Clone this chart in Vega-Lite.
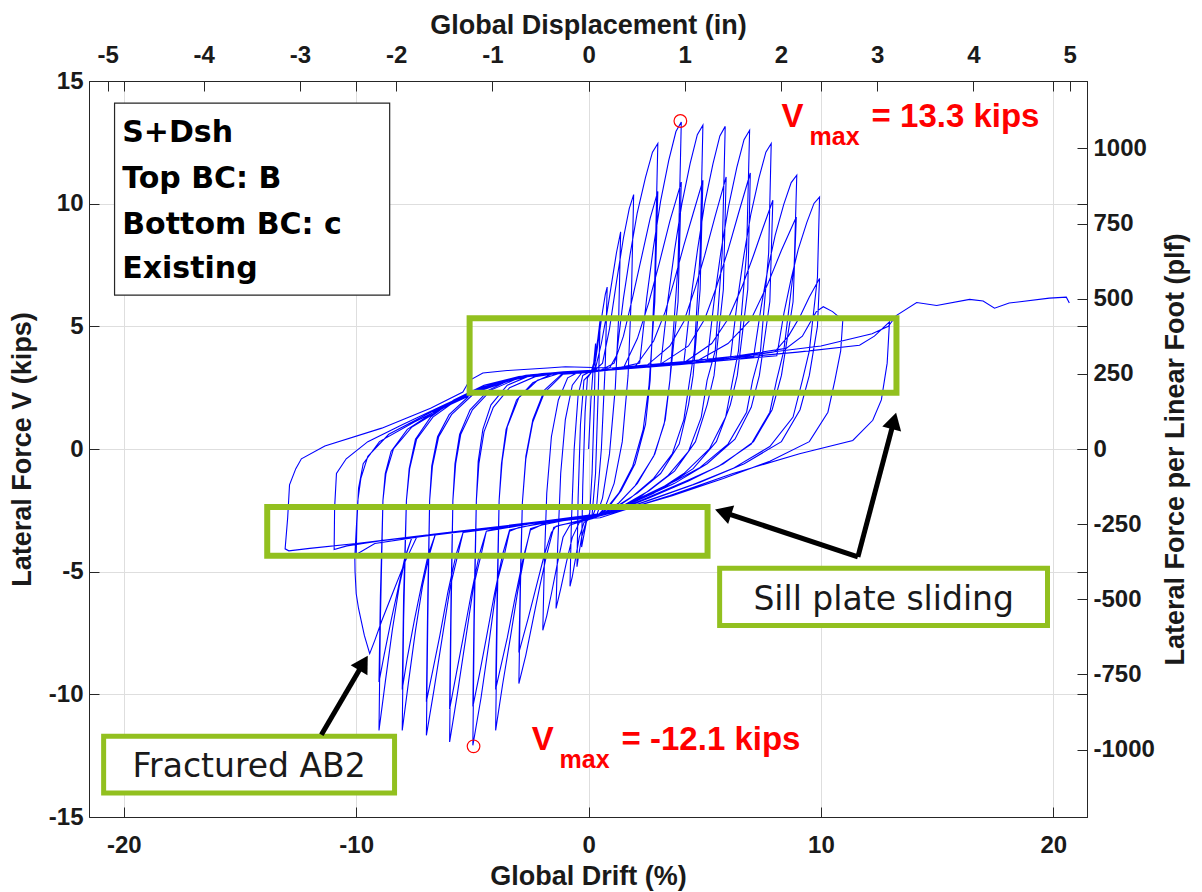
{
"$schema": "https://vega.github.io/schema/vega-lite/v6.json",
"width": 998, "height": 736,
"autosize": "none",
"padding": {"left": 89, "top": 81, "right": 115, "bottom": 75},
"background": "white",
"config": {"view": {"stroke": null}},
"resolve": {"scale": {"x": "independent", "y": "independent"}, "axis": {"x": "independent", "y": "independent"}},
"datasets": {
"loops": [
{"d":0,"v":0},{"d":0.1,"v":2.0},{"d":0.2,"v":3.3},{"d":0.3,"v":4.3},
{"d":0.25,"v":2.0},{"d":0.15,"v":-1.0},{"d":0.05,"v":-2.6},{"d":-0.1,"v":-3.0},{"d":-0.2,"v":-3.5},{"d":-0.3,"v":-4.0},
{"d":-0.25,"v":-1.5},{"d":-0.15,"v":1.5},{"d":-0.05,"v":2.9},{"d":0.1,"v":3.1},{"d":0.25,"v":3.6},{"d":0.4,"v":4.5},{"d":0.5,"v":5.3},
{"d":0.42,"v":2.5},{"d":0.3,"v":-1.0},{"d":0.15,"v":-2.7},{"d":-0.1,"v":-2.95},{"d":-0.3,"v":-3.6},{"d":-0.42,"v":-4.3},{"d":-0.5,"v":-4.8},
{"d":-0.45,"v":-2.0},{"d":-0.35,"v":1.0},{"d":-0.2,"v":2.8},{"d":0.1,"v":3.1},{"d":0.3,"v":3.6},{"d":0.45,"v":4.6},{"d":0.6,"v":5.6},{"d":0.72,"v":6.3},{"d":0.8,"v":6.6},
{"d":0.72,"v":3.5},{"d":0.55,"v":0},{"d":0.35,"v":-2.3},{"d":0.15,"v":-2.8},{"d":-0.2,"v":-3.0},{"d":-0.4,"v":-3.6},{"d":-0.55,"v":-4.4},{"d":-0.7,"v":-5.2},{"d":-0.8,"v":-5.6},
{"d":-0.74,"v":-3.0},{"d":-0.62,"v":0},{"d":-0.45,"v":2.2},{"d":-0.25,"v":3.0},{"d":0,"v":3.12},{"d":0.3,"v":3.3},{"d":0.55,"v":4.3},{"d":0.8,"v":5.6},{"d":1.0,"v":6.8},{"d":1.2,"v":8.0},{"d":1.38,"v":8.85},
{"d":1.3,"v":5.5},{"d":1.15,"v":2.5},{"d":0.9,"v":-0.2},{"d":0.6,"v":-2.0},{"d":0.35,"v":-2.7},{"d":0,"v":-2.85},{"d":-0.4,"v":-3.0},{"d":-0.7,"v":-3.6},{"d":-0.95,"v":-4.6},{"d":-1.2,"v":-5.7},{"d":-1.4,"v":-6.5},
{"d":-1.33,"v":-4.0},{"d":-1.2,"v":-1.0},{"d":-1.0,"v":1.2},{"d":-0.7,"v":2.6},{"d":-0.3,"v":3.1},{"d":0.2,"v":3.15},{"d":0.6,"v":3.5},{"d":0.9,"v":4.9},{"d":1.2,"v":6.8},{"d":1.5,"v":8.6},{"d":1.75,"v":9.8},{"d":1.94,"v":10.37},
{"d":1.85,"v":6.5},{"d":1.7,"v":3.0},{"d":1.45,"v":0.3},{"d":1.1,"v":-1.4},{"d":0.7,"v":-2.4},{"d":0.3,"v":-2.8},{"d":-0.3,"v":-2.95},{"d":-0.8,"v":-3.1},{"d":-1.1,"v":-3.6},{"d":-1.35,"v":-4.7},{"d":-1.6,"v":-5.9},{"d":-1.8,"v":-6.8},{"d":-1.97,"v":-7.39},
{"d":-1.9,"v":-4.5},{"d":-1.8,"v":-1.8},{"d":-1.6,"v":0.5},{"d":-1.3,"v":2.0},{"d":-0.9,"v":2.9},{"d":-0.4,"v":3.15},{"d":0.3,"v":3.15},{"d":0.9,"v":3.3},{"d":1.2,"v":3.8},
{"d":1.5,"v":6.14},{"d":1.79,"v":7.95},{"d":2.09,"v":9.6},{"d":2.45,"v":11.07},{"d":2.75,"v":12.1},{"d":2.98,"v":12.45},
{"d":2.85,"v":7.0},{"d":2.65,"v":2.8},{"d":2.45,"v":1.0},{"d":2.0,"v":-0.6},{"d":1.4,"v":-1.7},{"d":0.8,"v":-2.45},{"d":0.3,"v":-2.8},{"d":-0.4,"v":-2.95},{"d":-1.2,"v":-3.1},{"d":-1.5,"v":-3.2},
{"d":-1.8,"v":-4.3},{"d":-2.1,"v":-5.6},{"d":-2.4,"v":-7.0},{"d":-2.7,"v":-8.4},{"d":-3.0,"v":-9.56},
{"d":-2.93,"v":-5.5},{"d":-2.85,"v":-2.2},{"d":-2.7,"v":-0.3},{"d":-2.4,"v":1.2},{"d":-1.9,"v":2.4},{"d":-1.1,"v":3.1},{"d":-0.3,"v":3.15},{"d":0.5,"v":3.2},{"d":1.1,"v":3.5},
{"d":1.5,"v":4.6},{"d":1.9,"v":6.2},{"d":2.3,"v":7.9},{"d":2.65,"v":9.4},{"d":2.98,"v":10.5},
{"d":2.85,"v":6.0},{"d":2.6,"v":2.6},{"d":2.35,"v":0.8},{"d":1.9,"v":-0.7},{"d":1.3,"v":-1.8},{"d":0.7,"v":-2.5},{"d":0.2,"v":-2.8},{"d":-0.5,"v":-2.95},{"d":-1.4,"v":-3.15},{"d":-1.6,"v":-3.4},
{"d":-1.9,"v":-4.3},{"d":-2.25,"v":-5.6},{"d":-2.6,"v":-6.9},{"d":-3.0,"v":-8.3},
{"d":-2.93,"v":-5.0},{"d":-2.85,"v":-2.2},{"d":-2.7,"v":-0.4},{"d":-2.4,"v":1.1},{"d":-1.9,"v":2.3},{"d":-1.1,"v":3.05},{"d":0,"v":3.12},{"d":1.0,"v":3.25},{"d":2.2,"v":3.5},
{"d":2.5,"v":6.15},{"d":2.79,"v":8.22},{"d":3.1,"v":10.1},{"d":3.45,"v":11.76},{"d":3.76,"v":12.94},{"d":3.99,"v":13.33},
{"d":3.85,"v":7.5},{"d":3.5,"v":2.8},{"d":3.3,"v":1.2},{"d":2.85,"v":-0.2},{"d":2.1,"v":-1.4},{"d":1.3,"v":-2.2},{"d":0.6,"v":-2.65},{"d":0,"v":-2.8},{"d":-1.0,"v":-2.9},{"d":-2.0,"v":-3.1},{"d":-2.5,"v":-3.25},
{"d":-2.75,"v":-4.3},{"d":-3.05,"v":-5.8},{"d":-3.35,"v":-7.6},{"d":-3.7,"v":-9.6},{"d":-4.0,"v":-11.47},
{"d":-3.93,"v":-6.5},{"d":-3.85,"v":-2.1},{"d":-3.75,"v":-0.6},{"d":-3.55,"v":0.8},{"d":-3.1,"v":2.0},{"d":-2.4,"v":2.7},{"d":-1.6,"v":3.05},{"d":-0.6,"v":3.12},{"d":0.5,"v":3.2},{"d":1.5,"v":3.3},
{"d":2.1,"v":4.5},{"d":2.6,"v":6.0},{"d":3.05,"v":7.6},{"d":3.5,"v":9.3},{"d":3.99,"v":10.88},
{"d":3.85,"v":6.0},{"d":3.5,"v":2.8},{"d":3.25,"v":1.0},{"d":2.8,"v":-0.3},{"d":2.0,"v":-1.5},{"d":1.2,"v":-2.3},{"d":0.5,"v":-2.7},{"d":-0.5,"v":-2.85},{"d":-1.8,"v":-3.0},{"d":-2.5,"v":-3.3},
{"d":-2.8,"v":-4.4},{"d":-3.15,"v":-6.0},{"d":-3.5,"v":-7.7},{"d":-4.0,"v":-9.8},
{"d":-3.93,"v":-5.5},{"d":-3.85,"v":-2.1},{"d":-3.72,"v":-0.5},{"d":-3.5,"v":0.9},{"d":-3.0,"v":2.1},{"d":-2.2,"v":2.8},{"d":-1.2,"v":3.1},{"d":0,"v":3.12},{"d":1.2,"v":3.25},{"d":2.5,"v":3.35},{"d":3.1,"v":3.4},
{"d":3.41,"v":6.05},{"d":3.7,"v":8.1},{"d":4.01,"v":9.97},{"d":4.37,"v":11.63},{"d":4.68,"v":12.81},{"d":4.92,"v":13.2},
{"d":4.8,"v":8.0},{"d":4.55,"v":4.0},{"d":4.35,"v":2.8},{"d":4.1,"v":1.2},{"d":3.6,"v":-0.2},{"d":2.8,"v":-1.2},{"d":1.8,"v":-2.0},{"d":1.0,"v":-2.5},{"d":0.4,"v":-2.75},{"d":-0.6,"v":-2.85},{"d":-1.8,"v":-3.0},{"d":-3.0,"v":-3.2},{"d":-3.4,"v":-3.35},
{"d":-3.6,"v":-4.2},{"d":-3.93,"v":-5.4},{"d":-4.28,"v":-7.85},{"d":-4.63,"v":-10.15},{"d":-4.98,"v":-12.08},
{"d":-4.92,"v":-7.0},{"d":-4.83,"v":-2.1},{"d":-4.75,"v":-0.5},{"d":-4.55,"v":0.8},{"d":-4.2,"v":1.8},{"d":-3.5,"v":2.6},{"d":-2.5,"v":3.0},{"d":-1.1,"v":3.15},{"d":0.5,"v":3.2},{"d":2.0,"v":3.35},
{"d":2.8,"v":4.4},{"d":3.3,"v":5.6},{"d":3.7,"v":6.9},{"d":4.1,"v":8.3},{"d":4.5,"v":9.6},{"d":4.92,"v":10.95},
{"d":4.8,"v":6.5},{"d":4.5,"v":3.0},{"d":4.3,"v":1.8},{"d":3.9,"v":0.2},{"d":3.1,"v":-1.0},{"d":2.1,"v":-1.8},{"d":1.1,"v":-2.4},{"d":0.4,"v":-2.7},{"d":-0.8,"v":-2.85},{"d":-2.2,"v":-3.05},{"d":-3.4,"v":-3.3},
{"d":-3.7,"v":-4.3},{"d":-4.05,"v":-5.9},{"d":-4.4,"v":-7.7},{"d":-4.7,"v":-9.2},{"d":-4.98,"v":-10.5},
{"d":-4.92,"v":-6.0},{"d":-4.83,"v":-2.1},{"d":-4.72,"v":-0.6},{"d":-4.5,"v":0.7},{"d":-4.1,"v":1.7},{"d":-3.4,"v":2.5},{"d":-2.3,"v":2.95},{"d":-1.1,"v":3.12},{"d":0.5,"v":3.18},{"d":2.0,"v":3.3},{"d":3.5,"v":3.45},{"d":4.1,"v":3.5},
{"d":4.4,"v":6.11},{"d":4.69,"v":8.13},{"d":4.99,"v":9.97},{"d":5.35,"v":11.61},{"d":5.65,"v":12.76},{"d":5.88,"v":13.15},
{"d":5.75,"v":8.0},{"d":5.45,"v":4.0},{"d":5.1,"v":2.8},{"d":4.85,"v":1.3},{"d":4.3,"v":-0.1},{"d":3.4,"v":-1.1},{"d":2.3,"v":-1.9},{"d":1.3,"v":-2.4},{"d":0.5,"v":-2.7},{"d":-0.8,"v":-2.85},{"d":-2.5,"v":-3.05},{"d":-4.0,"v":-3.25},{"d":-4.4,"v":-3.35},
{"d":-4.6,"v":-4.2},{"d":-4.95,"v":-5.6},{"d":-5.3,"v":-7.8},{"d":-5.65,"v":-10.0},{"d":-5.98,"v":-11.94},
{"d":-5.92,"v":-7.0},{"d":-5.84,"v":-2.1},{"d":-5.75,"v":-0.6},{"d":-5.55,"v":0.6},{"d":-5.1,"v":1.6},{"d":-4.3,"v":2.4},{"d":-3.2,"v":2.9},{"d":-2.0,"v":3.08},{"d":-1.0,"v":3.14},{"d":0.5,"v":3.2},{"d":2.5,"v":3.4},
{"d":3.5,"v":4.2},{"d":4.1,"v":5.2},{"d":4.6,"v":6.6},{"d":5.0,"v":7.9},{"d":5.45,"v":9.5},{"d":5.92,"v":11.09},
{"d":5.8,"v":6.5},{"d":5.4,"v":3.0},{"d":5.1,"v":1.8},{"d":4.6,"v":0.3},{"d":3.7,"v":-0.9},{"d":2.6,"v":-1.7},{"d":1.5,"v":-2.3},{"d":0.6,"v":-2.65},{"d":-0.8,"v":-2.85},{"d":-2.5,"v":-3.05},{"d":-4.4,"v":-3.35},
{"d":-4.7,"v":-4.3},{"d":-5.05,"v":-5.9},{"d":-5.4,"v":-7.7},{"d":-5.7,"v":-9.2},{"d":-5.98,"v":-10.6},
{"d":-5.92,"v":-6.0},{"d":-5.84,"v":-2.1},{"d":-5.72,"v":-0.6},{"d":-5.5,"v":0.6},{"d":-5.0,"v":1.6},{"d":-4.2,"v":2.4},{"d":-3.0,"v":2.9},{"d":-1.5,"v":3.1},{"d":0.5,"v":3.18},{"d":2.5,"v":3.35},{"d":4.5,"v":3.5},{"d":5.1,"v":3.55},
{"d":5.41,"v":6.1},{"d":5.7,"v":8.08},{"d":6.02,"v":9.87},{"d":6.38,"v":11.48},{"d":6.69,"v":12.61},{"d":6.93,"v":12.99},
{"d":6.8,"v":8.0},{"d":6.45,"v":4.0},{"d":6.2,"v":2.8},{"d":5.9,"v":1.3},{"d":5.2,"v":0.0},{"d":4.1,"v":-1.0},{"d":2.8,"v":-1.8},{"d":1.5,"v":-2.35},{"d":0.6,"v":-2.7},{"d":-1.0,"v":-2.85},{"d":-3.0,"v":-3.1},{"d":-5.0,"v":-3.3},{"d":-5.4,"v":-3.4},
{"d":-5.6,"v":-4.2},{"d":-5.95,"v":-5.6},{"d":-6.3,"v":-7.7},{"d":-6.65,"v":-9.8},{"d":-6.98,"v":-11.67},
{"d":-6.92,"v":-7.0},{"d":-6.84,"v":-2.1},{"d":-6.75,"v":-0.7},{"d":-6.5,"v":0.5},{"d":-6.0,"v":1.4},{"d":-5.1,"v":2.2},{"d":-4.0,"v":2.7},{"d":-2.7,"v":3.0},{"d":-1.2,"v":3.13},{"d":0.5,"v":3.2},{"d":3.0,"v":3.4},
{"d":4.3,"v":4.2},{"d":5.0,"v":5.3},{"d":5.5,"v":6.6},{"d":6.0,"v":8.1},{"d":6.45,"v":9.6},{"d":6.96,"v":11.25},
{"d":6.85,"v":6.5},{"d":6.4,"v":3.0},{"d":6.1,"v":1.8},{"d":5.5,"v":0.3},{"d":4.5,"v":-0.8},{"d":3.2,"v":-1.6},{"d":1.8,"v":-2.2},{"d":0.7,"v":-2.65},{"d":-1.0,"v":-2.85},{"d":-3.0,"v":-3.1},{"d":-5.4,"v":-3.4},
{"d":-5.7,"v":-4.3},{"d":-6.05,"v":-5.8},{"d":-6.4,"v":-7.6},{"d":-6.7,"v":-9.0},{"d":-6.98,"v":-10.3},
{"d":-6.92,"v":-6.0},{"d":-6.84,"v":-2.1},{"d":-6.72,"v":-0.7},{"d":-6.45,"v":0.5},{"d":-5.9,"v":1.4},{"d":-5.0,"v":2.2},{"d":-3.8,"v":2.75},{"d":-2.2,"v":3.05},{"d":-0.8,"v":3.14},{"d":1.0,"v":3.22},{"d":3.0,"v":3.38},{"d":5.5,"v":3.6},{"d":6.1,"v":3.65},
{"d":6.4,"v":6.03},{"d":6.68,"v":7.87},{"d":6.98,"v":9.55},{"d":7.33,"v":11.04},{"d":7.63,"v":12.1},{"d":7.86,"v":12.45},
{"d":7.75,"v":8.0},{"d":7.4,"v":4.0},{"d":7.06,"v":2.8},{"d":6.8,"v":1.5},{"d":6.0,"v":0.2},{"d":4.8,"v":-0.75},{"d":3.77,"v":-1.28},{"d":2.2,"v":-2.0},{"d":1.0,"v":-2.55},{"d":0.3,"v":-2.75},{"d":-1.5,"v":-2.9},{"d":-4.0,"v":-3.2},{"d":-6.2,"v":-3.45},{"d":-6.6,"v":-3.5},
{"d":-6.85,"v":-4.3},{"d":-7.15,"v":-5.6},{"d":-7.45,"v":-7.4},{"d":-7.75,"v":-9.5},{"d":-8.02,"v":-11.47},
{"d":-7.96,"v":-7.0},{"d":-7.84,"v":-2.1},{"d":-7.72,"v":-0.8},{"d":-7.45,"v":0.4},{"d":-6.8,"v":1.3},{"d":-5.8,"v":2.0},{"d":-4.5,"v":2.6},{"d":-3.0,"v":2.95},{"d":-1.2,"v":3.13},{"d":1.0,"v":3.22},{"d":4.0,"v":3.45},
{"d":5.3,"v":4.3},{"d":6.0,"v":5.3},{"d":6.6,"v":6.6},{"d":7.1,"v":7.9},{"d":7.5,"v":9.0},{"d":7.93,"v":10.14},
{"d":7.8,"v":6.0},{"d":7.35,"v":3.0},{"d":7.0,"v":1.7},{"d":6.3,"v":0.4},{"d":5.1,"v":-0.6},{"d":3.7,"v":-1.4},{"d":2.1,"v":-2.1},{"d":0.8,"v":-2.6},{"d":-1.5,"v":-2.9},{"d":-4.0,"v":-3.2},{"d":-6.6,"v":-3.5},
{"d":-6.9,"v":-4.3},{"d":-7.2,"v":-5.6},{"d":-7.5,"v":-7.0},{"d":-7.8,"v":-8.5},{"d":-8.02,"v":-9.8},
{"d":-7.96,"v":-6.0},{"d":-7.84,"v":-2.1},{"d":-7.7,"v":-0.8},{"d":-7.4,"v":0.4},{"d":-6.7,"v":1.3},{"d":-5.6,"v":2.05},{"d":-4.2,"v":2.65},{"d":-2.5,"v":3.02},{"d":-1.0,"v":3.14},{"d":1.0,"v":3.22},{"d":4.0,"v":3.45},{"d":6.5,"v":3.68},{"d":7.1,"v":3.75},
{"d":7.42,"v":5.75},{"d":7.71,"v":7.31},{"d":8.03,"v":8.71},{"d":8.4,"v":9.97},{"d":8.72,"v":10.86},{"d":8.96,"v":11.16},
{"d":8.85,"v":7.5},{"d":8.4,"v":4.0},{"d":8.09,"v":2.8},{"d":7.8,"v":1.5},{"d":7.0,"v":0.2},{"d":5.6,"v":-0.7},{"d":4.2,"v":-1.3},{"d":2.5,"v":-2.0},{"d":1.1,"v":-2.55},{"d":0.3,"v":-2.75},{"d":-2.0,"v":-2.95},{"d":-5.0,"v":-3.3},{"d":-7.2,"v":-3.55},{"d":-7.6,"v":-3.6},
{"d":-7.85,"v":-4.3},{"d":-8.15,"v":-5.6},{"d":-8.45,"v":-7.4},{"d":-8.75,"v":-9.5},{"d":-9.02,"v":-11.47},
{"d":-8.96,"v":-7.0},{"d":-8.85,"v":-2.1},{"d":-8.75,"v":-1.0},{"d":-8.5,"v":-0.1},{"d":-7.8,"v":0.8},{"d":-6.5,"v":1.6},{"d":-5.0,"v":2.3},{"d":-3.5,"v":2.8},{"d":-2.0,"v":3.05},{"d":-1.1,"v":3.15},{"d":1.0,"v":3.22},{"d":4.5,"v":3.5},
{"d":6.0,"v":4.3},{"d":7.0,"v":5.3},{"d":7.7,"v":6.7},{"d":8.3,"v":8.1},{"d":8.94,"v":9.46},
{"d":8.8,"v":6.0},{"d":8.3,"v":3.0},{"d":7.9,"v":1.6},{"d":7.1,"v":0.3},{"d":5.8,"v":-0.6},{"d":4.3,"v":-1.3},{"d":2.6,"v":-2.0},{"d":1.0,"v":-2.6},{"d":-2.0,"v":-2.95},{"d":-5.0,"v":-3.3},{"d":-7.6,"v":-3.6},
{"d":-7.9,"v":-4.4},{"d":-8.2,"v":-5.7},{"d":-8.5,"v":-7.0},{"d":-8.8,"v":-8.4},{"d":-9.02,"v":-9.5},
{"d":-8.96,"v":-6.0},{"d":-8.85,"v":-2.1},{"d":-8.72,"v":-1.0},{"d":-8.4,"v":0.0},{"d":-7.6,"v":0.9},{"d":-6.2,"v":1.7},{"d":-4.6,"v":2.4},{"d":-3.0,"v":2.9},{"d":-1.5,"v":3.1},{"d":1.0,"v":3.22},{"d":4.5,"v":3.5},{"d":7.5,"v":3.75},{"d":8.1,"v":3.8},
{"d":8.41,"v":5.55},{"d":8.71,"v":6.9},{"d":9.02,"v":8.13},{"d":9.39,"v":9.23},{"d":9.7,"v":10.01},{"d":9.94,"v":10.27},
{"d":9.85,"v":7.0},{"d":9.5,"v":4.0},{"d":9.2,"v":2.8},{"d":8.8,"v":1.3},{"d":7.8,"v":0.1},{"d":6.2,"v":-0.8},{"d":4.5,"v":-1.45},{"d":2.7,"v":-2.05},{"d":1.2,"v":-2.55},{"d":0.3,"v":-2.75},{"d":-2.0,"v":-2.95},{"d":-5.0,"v":-3.3},{"d":-7.4,"v":-3.6},
{"d":-7.9,"v":-4.6},{"d":-8.4,"v":-5.8},{"d":-8.9,"v":-7.0},{"d":-9.2,"v":-7.8},{"d":-9.42,"v":-8.34},{"d":-9.65,"v":-7.6},{"d":-9.9,"v":-6.5},{"d":-10.0,"v":-5.9},{"d":-10.05,"v":-5.0},{"d":-10.06,"v":-4.4},
{"d":-10.0,"v":-3.3},{"d":-9.93,"v":-2.1},{"d":-9.8,"v":-1.2},{"d":-9.5,"v":-0.3},{"d":-8.6,"v":0.6},{"d":-7.0,"v":1.4},{"d":-5.5,"v":2.1},{"d":-4.0,"v":2.7},{"d":-2.2,"v":3.05},{"d":-1.1,"v":3.15},{"d":1.0,"v":3.22},{"d":4.5,"v":3.5},{"d":8.0,"v":3.95},
{"d":8.6,"v":4.6},{"d":9.1,"v":5.4},{"d":9.5,"v":6.2},{"d":9.94,"v":6.95},
{"d":9.85,"v":5.0},{"d":9.5,"v":3.0},{"d":9.1,"v":1.6},{"d":8.3,"v":0.3},{"d":6.7,"v":-0.6},{"d":4.8,"v":-1.35},{"d":2.9,"v":-2.0},{"d":1.2,"v":-2.55},{"d":-2.0,"v":-2.95},{"d":-6.0,"v":-3.4},{"d":-9.2,"v":-3.85},{"d":-10.0,"v":-4.3},
{"d":-9.97,"v":-3.0},{"d":-9.9,"v":-1.6},{"d":-9.7,"v":-0.6},{"d":-9.0,"v":0.3},{"d":-7.5,"v":1.1},{"d":-5.8,"v":1.9},{"d":-4.2,"v":2.6},{"d":-2.4,"v":3.0},{"d":-1.1,"v":3.15},{"d":1.0,"v":3.25},{"d":5.0,"v":3.6},{"d":8.5,"v":4.1},
{"d":9.2,"v":4.6},{"d":9.8,"v":5.6},{"d":10.1,"v":5.8},{"d":10.5,"v":5.6},{"d":10.94,"v":5.25},
{"d":10.85,"v":4.0},{"d":10.6,"v":2.8},{"d":10.3,"v":1.5},{"d":9.5,"v":0.3},{"d":7.8,"v":-0.5},{"d":5.8,"v":-1.2},{"d":3.6,"v":-1.9},{"d":1.6,"v":-2.45},{"d":0.4,"v":-2.75},{"d":-2.0,"v":-2.95},{"d":-6.0,"v":-3.4},{"d":-9.0,"v":-3.75},{"d":-10.4,"v":-3.95},{"d":-10.95,"v":-4.1},
{"d":-10.93,"v":-2.4},{"d":-10.85,"v":-1.0},{"d":-10.43,"v":-0.4},{"d":-9.5,"v":0.3},{"d":-8.0,"v":1.0},{"d":-6.2,"v":1.8},{"d":-4.5,"v":2.55},{"d":-2.6,"v":3.0},{"d":-1.1,"v":3.15},{"d":1.0,"v":3.25},{"d":5.0,"v":3.6},{"d":9.0,"v":3.95},{"d":11.66,"v":4.23},{"d":12.3,"v":4.6},{"d":12.95,"v":5.18},
{"d":12.85,"v":3.5},{"d":12.6,"v":2.0},{"d":12.23,"v":1.17},{"d":11.37,"v":0.35},{"d":9.08,"v":-0.19},{"d":6.21,"v":-1.0},{"d":3.5,"v":-1.9},{"d":1.5,"v":-2.5},{"d":0.5,"v":-2.8},{"d":-2.0,"v":-2.95},{"d":-6.0,"v":-3.4},{"d":-10.0,"v":-3.85},{"d":-12.0,"v":-4.05},{"d":-12.9,"v":-4.15},{"d":-13.06,"v":-4.07},
{"d":-12.95,"v":-2.8},{"d":-12.87,"v":-1.46},{"d":-12.6,"v":-0.8},{"d":-12.36,"v":-0.4},{"d":-11.35,"v":0.12},{"d":-8.9,"v":0.85},{"d":-6.8,"v":1.66},{"d":-5.41,"v":2.32},{"d":-5.12,"v":2.8},{"d":-4.55,"v":3.1},{"d":-3.5,"v":3.2},{"d":-1.76,"v":3.3},{"d":-1.0,"v":3.35},{"d":1.0,"v":3.3},{"d":4.0,"v":3.55},{"d":7.0,"v":3.85},{"d":10.0,"v":4.2},{"d":12.2,"v":4.7},{"d":12.9,"v":5.0},{"d":13.24,"v":5.44},{"d":14.12,"v":5.97},{"d":14.98,"v":5.85},{"d":16.4,"v":6.1},{"d":16.98,"v":6.03},{"d":17.47,"v":5.74},{"d":18.1,"v":5.95},{"d":19.83,"v":6.15},{"d":20.56,"v":6.19},{"d":20.69,"v":5.95}
]
},
"layer": [
{
"data": {"name": "loops"},
"mark": {"type": "line", "color": "#0000ff", "strokeWidth": 1.1},
"encoding": {
"x": {"field": "d", "type": "quantitative", "scale": {"domain": [-21.5, 21.45], "nice": false, "zero": false},
"axis": {"orient": "bottom", "values": [-20, -10, 0, 10, 20], "labelExpr": "'' + datum.value", "grid": true, "gridColor": "#dedede", "gridWidth": 1, "tickSize": -10, "tickColor": "#262626", "domainColor": "#262626", "labelFont": "Liberation Sans", "labelFontWeight": "bold", "labelFontSize": 24, "labelColor": "#1a1a1a", "labelPadding": 26, "labelFlush": false, "labelOverlap": false, "title": "Global Drift (%)", "titleFont": "Liberation Sans", "titleFontSize": 27, "titleFontWeight": "bold", "titleColor": "#1a1a1a", "titlePadding": 6}},
"y": {"field": "v", "type": "quantitative", "scale": {"domain": [-15, 15], "nice": false, "zero": false},
"axis": {"orient": "left", "values": [-15, -10, -5, 0, 5, 10, 15], "labelExpr": "'' + datum.value", "grid": true, "gridColor": "#dedede", "gridWidth": 1, "tickSize": -10, "tickColor": "#262626", "domainColor": "#262626", "labelFont": "Liberation Sans", "labelFontWeight": "bold", "labelFontSize": 24, "labelColor": "#1a1a1a", "labelPadding": 16, "labelFlush": false, "labelOverlap": false, "title": "Lateral Force V (kips)", "titleFont": "Liberation Sans", "titleFontSize": 27, "titleFontWeight": "bold", "titleColor": "#1a1a1a", "titlePadding": 12}},
"order": {"value": null}
}
},
{
"data": {"values": [{"a": 0, "b": 0}]},
"mark": {"type": "point", "opacity": 0},
"encoding": {
"x": {"field": "a", "type": "quantitative", "scale": {"domain": [-21.5, 21.45], "nice": false, "zero": false},
"axis": {"orient": "top", "values": [-20, -10, 0, 10, 20], "grid": false, "labels": false, "tickSize": -10, "tickColor": "#262626", "domainColor": "#262626", "title": null}},
"y": {"field": "b", "type": "quantitative", "scale": {"domain": [-15, 15], "nice": false, "zero": false},
"axis": {"orient": "right", "values": [-15, -10, -5, 0, 5, 10, 15], "grid": false, "labels": false, "tickSize": -10, "tickColor": "#262626", "domainColor": "#262626", "title": null}}
}
},
{
"data": {"values": [{"a": 0, "b": 0}]},
"mark": {"type": "point", "opacity": 0},
"encoding": {
"x": {"field": "a", "type": "quantitative", "scale": {"domain": [-5.193, 5.181], "nice": false, "zero": false},
"axis": {"orient": "top", "values": [-5, -4, -3, -2, -1, 0, 1, 2, 3, 4, 5], "labelExpr": "'' + datum.value", "grid": false, "tickSize": -10, "tickColor": "#262626", "domainColor": "#262626", "labelFont": "Liberation Sans", "labelFontWeight": "bold", "labelFontSize": 24, "labelColor": "#1a1a1a", "labelPadding": 24, "labelFlush": false, "labelOverlap": false, "title": "Global Displacement (in)", "titleFont": "Liberation Sans", "titleFontSize": 27, "titleFontWeight": "bold", "titleColor": "#1a1a1a", "titlePadding": 4}},
"y": {"field": "b", "type": "quantitative", "scale": {"domain": [-1224.5, 1224.5], "nice": false, "zero": false},
"axis": {"orient": "right", "values": [-1000, -750, -500, -250, 0, 250, 500, 750, 1000], "labelExpr": "'' + datum.value", "grid": false, "tickSize": -10, "tickColor": "#262626", "domainColor": "#262626", "labelFont": "Liberation Sans", "labelFontWeight": "bold", "labelFontSize": 24, "labelColor": "#1a1a1a", "labelPadding": 16, "labelFlush": false, "labelOverlap": false, "title": "Lateral Force per Linear Foot (plf)", "titleAngle": 270, "titleBaseline": "top", "titleFont": "Liberation Sans", "titleFontSize": 27, "titleFontWeight": "bold", "titleColor": "#1a1a1a", "titlePadding": 8}}
}
},
{
"data": {"values": [{"x1": -5.12, "x2": 13.25, "y1": 5.33, "y2": 2.29}, {"x1": -13.83, "x2": 5.12, "y1": -2.36, "y2": -4.35}]},
"mark": {"type": "rect", "fillOpacity": 0, "stroke": "#92c01f", "strokeWidth": 6},
"encoding": {
"x": {"field": "x1", "type": "quantitative", "scale": {"domain": [-21.5, 21.45], "nice": false, "zero": false}, "axis": null},
"x2": {"field": "x2"},
"y": {"field": "y1", "type": "quantitative", "scale": {"domain": [-15, 15], "nice": false, "zero": false}, "axis": null},
"y2": {"field": "y2"}
}
},
{
"data": {"values": [{"x1": -20.87, "x2": -8.35, "y1": -11.71, "y2": -14.02}, {"x1": 5.64, "x2": 19.75, "y1": -4.86, "y2": -7.19}]},
"mark": {"type": "rect", "fill": "white", "stroke": "#92c01f", "strokeWidth": 5},
"encoding": {
"x": {"field": "x1", "type": "quantitative", "scale": {"domain": [-21.5, 21.45], "nice": false, "zero": false}, "axis": null},
"x2": {"field": "x2"},
"y": {"field": "y1", "type": "quantitative", "scale": {"domain": [-15, 15], "nice": false, "zero": false}, "axis": null},
"y2": {"field": "y2"}
}
},
{
"data": {"values": [{"x1": -20.4, "x2": -8.56, "y1": 14.1, "y2": 6.27}]},
"mark": {"type": "rect", "fill": "white", "stroke": "#262626", "strokeWidth": 1.2},
"encoding": {
"x": {"field": "x1", "type": "quantitative", "scale": {"domain": [-21.5, 21.45], "nice": false, "zero": false}, "axis": null},
"x2": {"field": "x2"},
"y": {"field": "y1", "type": "quantitative", "scale": {"domain": [-15, 15], "nice": false, "zero": false}, "axis": null},
"y2": {"field": "y2"}
}
},
{
"data": {"values": [{"x1": -11.5, "y1": -11.65, "x2": -9.69, "y2": -8.72}, {"x1": 11.59, "y1": -4.40, "x2": 13.14, "y2": 1.15}, {"x1": 11.59, "y1": -4.40, "x2": 5.79, "y2": -2.57}]},
"mark": {"type": "rule", "color": "black", "strokeWidth": 5},
"encoding": {
"x": {"field": "x1", "type": "quantitative", "scale": {"domain": [-21.5, 21.45], "nice": false, "zero": false}, "axis": null},
"x2": {"field": "x2"},
"y": {"field": "y1", "type": "quantitative", "scale": {"domain": [-15, 15], "nice": false, "zero": false}, "axis": null},
"y2": {"field": "y2"}
}
},
{
"data": {"values": [{"x": -9.69, "y": -8.72}]},
"mark": {"type": "point", "shape": "triangle-up", "filled": true, "color": "black", "opacity": 1, "size": 380, "angle": 31},
"encoding": {
"x": {"field": "x", "type": "quantitative", "scale": {"domain": [-21.5, 21.45], "nice": false, "zero": false}, "axis": null},
"y": {"field": "y", "type": "quantitative", "scale": {"domain": [-15, 15], "nice": false, "zero": false}, "axis": null}
}
},
{
"data": {"values": [{"x": 13.14, "y": 1.15}]},
"mark": {"type": "point", "shape": "triangle-up", "filled": true, "color": "black", "opacity": 1, "size": 380, "angle": 15},
"encoding": {
"x": {"field": "x", "type": "quantitative", "scale": {"domain": [-21.5, 21.45], "nice": false, "zero": false}, "axis": null},
"y": {"field": "y", "type": "quantitative", "scale": {"domain": [-15, 15], "nice": false, "zero": false}, "axis": null}
}
},
{
"data": {"values": [{"x": 5.79, "y": -2.57}]},
"mark": {"type": "point", "shape": "triangle-up", "filled": true, "color": "black", "opacity": 1, "size": 380, "angle": 288},
"encoding": {
"x": {"field": "x", "type": "quantitative", "scale": {"domain": [-21.5, 21.45], "nice": false, "zero": false}, "axis": null},
"y": {"field": "y", "type": "quantitative", "scale": {"domain": [-15, 15], "nice": false, "zero": false}, "axis": null}
}
},
{
"data": {"values": [{"x": 3.95, "y": 13.37}, {"x": -4.95, "y": -12.12}]},
"mark": {"type": "point", "shape": "circle", "filled": false, "color": "#ff0000", "opacity": 1, "size": 160, "strokeWidth": 1.2},
"encoding": {
"x": {"field": "x", "type": "quantitative", "scale": {"domain": [-21.5, 21.45], "nice": false, "zero": false}, "axis": null},
"y": {"field": "y", "type": "quantitative", "scale": {"domain": [-15, 15], "nice": false, "zero": false}, "axis": null}
}
},
{
"data": {"values": [{"t": "S+Dsh", "x": -20.07, "y": 12.52}, {"t": "Top BC: B", "x": -20.07, "y": 10.62}, {"t": "Bottom BC: c", "x": -20.07, "y": 8.78}, {"t": "Existing", "x": -20.07, "y": 6.95}]},
"mark": {"type": "text", "align": "left", "baseline": "alphabetic", "font": "DejaVu Sans", "fontWeight": "bold", "fontSize": 30, "color": "black"},
"encoding": {
"x": {"field": "x", "type": "quantitative", "scale": {"domain": [-21.5, 21.45], "nice": false, "zero": false}, "axis": null},
"y": {"field": "y", "type": "quantitative", "scale": {"domain": [-15, 15], "nice": false, "zero": false}, "axis": null},
"text": {"field": "t"}
}
},
{
"data": {"values": [{"t": "Fractured AB2", "x": -14.61, "y": -13.38}, {"t": "Sill plate sliding", "x": 12.7, "y": -6.55}]},
"mark": {"type": "text", "align": "center", "baseline": "alphabetic", "font": "DejaVu Sans", "fontSize": 33, "color": "#1a1a1a"},
"encoding": {
"x": {"field": "x", "type": "quantitative", "scale": {"domain": [-21.5, 21.45], "nice": false, "zero": false}, "axis": null},
"y": {"field": "y", "type": "quantitative", "scale": {"domain": [-15, 15], "nice": false, "zero": false}, "axis": null},
"text": {"field": "t"}
}
},
{
"data": {"values": [{"t": "V", "x": 8.3, "y": 13.12}, {"t": "= 13.3 kips", "x": 12.18, "y": 13.12}, {"t": "V", "x": -2.45, "y": -12.28}, {"t": "= -12.1 kips", "x": 1.42, "y": -12.28}]},
"mark": {"type": "text", "align": "left", "baseline": "alphabetic", "font": "Liberation Sans", "fontWeight": "bold", "fontSize": 33, "color": "#ff0000"},
"encoding": {
"x": {"field": "x", "type": "quantitative", "scale": {"domain": [-21.5, 21.45], "nice": false, "zero": false}, "axis": null},
"y": {"field": "y", "type": "quantitative", "scale": {"domain": [-15, 15], "nice": false, "zero": false}, "axis": null},
"text": {"field": "t"}
}
},
{
"data": {"values": [{"t": "max", "x": 9.51, "y": 12.38}, {"t": "max", "x": -1.25, "y": -13.02}]},
"mark": {"type": "text", "align": "left", "baseline": "alphabetic", "font": "Liberation Sans", "fontWeight": "bold", "fontSize": 25, "color": "#ff0000"},
"encoding": {
"x": {"field": "x", "type": "quantitative", "scale": {"domain": [-21.5, 21.45], "nice": false, "zero": false}, "axis": null},
"y": {"field": "y", "type": "quantitative", "scale": {"domain": [-15, 15], "nice": false, "zero": false}, "axis": null},
"text": {"field": "t"}
}
}
]
}
